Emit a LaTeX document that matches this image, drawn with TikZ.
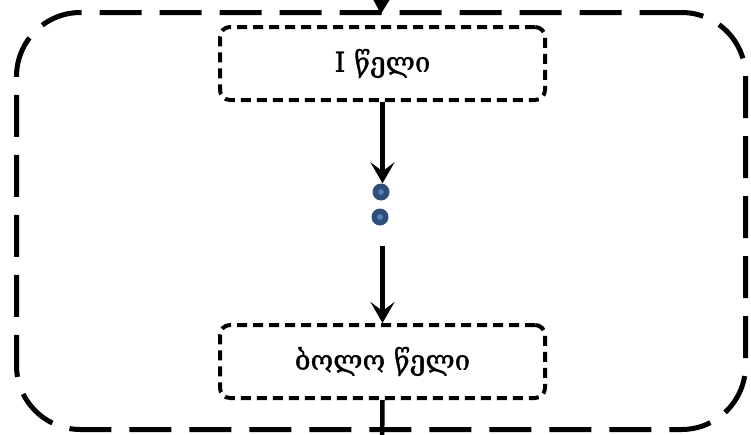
\documentclass[tikz,border=0pt]{standalone}
\usepackage{fontspec}
\setmainfont{DejaVu Serif}
\newfontfamily\yearfont[FakeBold=1.2]{DejaVu Serif}
\usetikzlibrary{arrows.meta}
\definecolor{dotblue}{HTML}{2E4D77}
\definecolor{dotcore}{HTML}{4F86C6}
\begin{document}
\begin{tikzpicture}[x=1pt,y=-1pt,
  frame/.style={draw, line width=5pt, dash pattern=on 42pt off 18pt,
    rounded corners=64pt, minimum width=729pt, minimum height=417pt, inner sep=0pt},
  yearbox/.style={draw, line width=4pt, dash pattern=on 10pt off 6pt,
    rounded corners=10pt, minimum width=325pt, minimum height=73pt, inner sep=0pt,
    font=\yearfont\fontsize{27.5}{30}\selectfont},
  flow/.style={line width=4.5pt, -{Stealth[length=21pt,width=24pt,inset=9pt]}},
  plain/.style={line width=4.5pt},
  dot/.style={circle, fill=dotblue, draw=none, inner sep=0pt, minimum size=17pt,
    path picture={\fill[dotcore] (path picture bounding box.center) circle[radius=2.8pt];}}
]
\useasboundingbox (0,0) rectangle (751,434);
\node[frame] (frame) at (381,221) {};
\node[yearbox] (y1) at (382.5,63.5) {I წელი};
\node[yearbox] (ylast) at (382.5,361.5) {ბოლო წელი};
\node[dot] (d1) at (381,192) {};
\node[dot] (d2) at (380,217) {};
\coordinate (entry) at (382,-20);
\coordinate (exit) at (382,450);
\draw[flow, shorten >=-4pt] (entry) -- (frame.north);
\draw[flow] (y1.south) -- (y1.south |- d1.north);
\draw[flow, shorten <=20pt] (ylast.north |- d2.south) -- (ylast.north);
\draw[plain] (ylast.south) -- (exit);
\end{tikzpicture}
\end{document}
